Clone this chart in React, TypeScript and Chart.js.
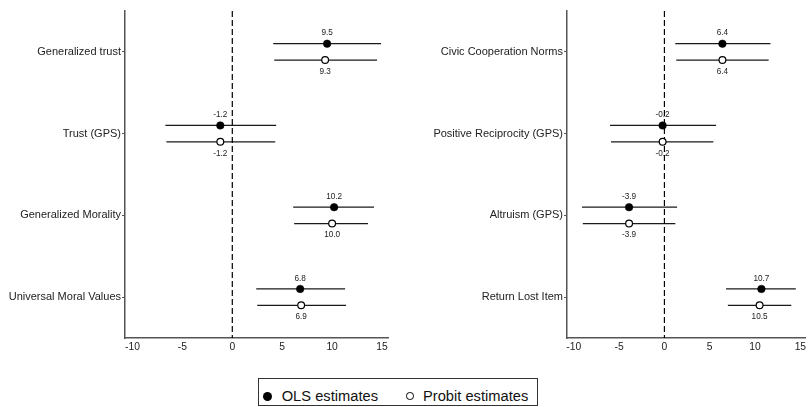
import React, { useEffect, useRef } from "react";
import { Chart, registerables } from "chart.js";

Chart.register(...registerables);

const FONT = "'Liberation Sans', Arial, Helvetica, sans-serif";

// ---- data ----
const xTicks = [-10, -5, 0, 5, 10, 15];
const xMin = -10.75;
const xMax = 15.6;
const catPositions = [1, 2, 3, 4];

const leftCategories = ["Generalized trust", "Trust (GPS)", "Generalized Morality", "Universal Moral Values"];
const leftOls = [9.5, -1.2, 10.2, 6.8];
const leftOlsLo = [4.1, -6.7, 6.1, 2.4];
const leftOlsHi = [14.9, 4.4, 14.2, 11.3];
const leftProbit = [9.3, -1.2, 10.0, 6.9];
const leftProbitLo = [4.2, -6.6, 6.2, 2.5];
const leftProbitHi = [14.5, 4.3, 13.6, 11.4];

const rightCategories = ["Civic Cooperation Norms", "Positive Reciprocity (GPS)", "Altruism (GPS)", "Return Lost Item"];
const rightOls = [6.4, -0.2, -3.9, 10.7];
const rightOlsLo = [1.2, -6.0, -9.1, 6.8];
const rightOlsHi = [11.7, 5.7, 1.4, 14.5];
const rightProbit = [6.4, -0.2, -3.9, 10.5];
const rightProbitLo = [1.3, -5.9, -9.0, 7.0];
const rightProbitHi = [11.5, 5.4, 1.2, 14.0];

const OFF = 0.1;

type PanelProps = {
  categories: string[];
  ols: number[];
  olsLo: number[];
  olsHi: number[];
  probit: number[];
  probitLo: number[];
  probitHi: number[];
  yWidth: number;
  padRight: number;
};

function Panel(p: PanelProps) {
  const ref = useRef<HTMLCanvasElement | null>(null);
  useEffect(() => {
    if (!ref.current) return;
    const ciSets: any[] = [];
    p.categories.forEach((_, i) => {
      const y = catPositions[i];
      ciSets.push({
        data: [{ x: p.olsLo[i], y: y - OFF }, { x: p.olsHi[i], y: y - OFF }],
        borderColor: "#1a1a1a",
        borderWidth: 1.3,
        pointRadius: 0,
        showLine: true,
      });
      ciSets.push({
        data: [{ x: p.probitLo[i], y: y + OFF }, { x: p.probitHi[i], y: y + OFF }],
        borderColor: "#1a1a1a",
        borderWidth: 1.3,
        pointRadius: 0,
        showLine: true,
      });
    });
    const datasets: any[] = [
      {
        data: p.ols.map((v, i) => ({ x: v, y: catPositions[i] - OFF })),
        showLine: false,
        pointRadius: 3.8,
        pointBackgroundColor: "#000",
        pointBorderColor: "#000",
        pointBorderWidth: 0.5,
      },
      {
        data: p.probit.map((v, i) => ({ x: v, y: catPositions[i] + OFF })),
        showLine: false,
        pointRadius: 3.4,
        pointBackgroundColor: "#fff",
        pointBorderColor: "#000",
        pointBorderWidth: 1.2,
      },
      {
        data: [{ x: 0, y: 0.5 }, { x: 0, y: 4.5 }],
        borderColor: "#000",
        borderWidth: 1.2,
        borderDash: [6, 3],
        pointRadius: 0,
        showLine: true,
      },
      ...ciSets,
    ];
    const valuePlugin = {
      id: "vals",
      beforeDatasetsDraw(chart: any) {
        const ctx = chart.ctx;
        const xs = chart.scales.x;
        const ys = chart.scales.y;
        ctx.save();
        ctx.font = `8.2px ${FONT}`;
        ctx.fillStyle = "#222";
        ctx.textAlign = "center";
        ctx.textBaseline = "middle";
        p.ols.forEach((v, i) => {
          ctx.fillText(v.toFixed(1), xs.getPixelForValue(v), ys.getPixelForValue(catPositions[i] - OFF) - 10.5);
        });
        p.probit.forEach((v, i) => {
          ctx.fillText(v.toFixed(1), xs.getPixelForValue(v), ys.getPixelForValue(catPositions[i] + OFF) + 11.5);
        });
        ctx.restore();
      },
    };
    const chart = new Chart(ref.current, {
      type: "line",
      data: { datasets },
      plugins: [valuePlugin],
      options: {
        animation: false,
        responsive: true,
        maintainAspectRatio: false,
        layout: { padding: { top: 11, right: p.padRight, left: 0, bottom: 0 } },
        plugins: { legend: { display: false }, tooltip: { enabled: false } },
        events: [],
        scales: {
          x: {
            type: "linear",
            min: xMin,
            max: xMax,
            afterBuildTicks: (s: any) => {
              s.ticks = xTicks.map((v) => ({ value: v }));
            },
            afterFit: (s: any) => {
              s.height = 22;
              s.paddingLeft = 0;
              s.paddingRight = 0;
            },
            ticks: {
              font: { family: FONT, size: 10.3 },
              color: "#222",
              padding: 3,
              maxRotation: 0,
              autoSkip: false,
            },
            grid: { display: true, drawOnChartArea: false, drawTicks: false },
            border: { display: true, color: "#555", width: 1.5 },
          },
          y: {
            type: "linear",
            reverse: true,
            min: 0.5,
            max: 4.5,
            afterBuildTicks: (s: any) => {
              s.ticks = catPositions.map((v) => ({ value: v }));
            },
            afterFit: (s: any) => {
              s.width = p.yWidth;
              s.paddingTop = 0;
              s.paddingBottom = 0;
            },
            ticks: {
              callback: (_v: any, i: number) => p.categories[i],
              font: { family: FONT, size: 11 },
              color: "#222",
              padding: 1,
              autoSkip: false,
            },
            grid: { display: true, drawOnChartArea: false, drawTicks: true, tickLength: 3, color: "#555" },
            border: { display: true, color: "#555", width: 1.5 },
          },
        },
      } as any,
    });
    return () => chart.destroy();
  }, []);
  return <canvas ref={ref} />;
}

export default function App() {
  return (
    <div
      style={{
        position: "absolute",
        left: 0,
        top: 0,
        width: 809,
        height: 407,
        overflow: "hidden",
        background: "#fff",
        fontFamily: FONT,
      }}
    >
      <div style={{ position: "absolute", left: 0, top: 0, width: 400, height: 360 }}>
        <Panel
          categories={leftCategories}
          ols={leftOls}
          olsLo={leftOlsLo}
          olsHi={leftOlsHi}
          probit={leftProbit}
          probitLo={leftProbitLo}
          probitHi={leftProbitHi}
          yWidth={125}
          padRight={12}
        />
      </div>
      <div style={{ position: "absolute", left: 409, top: 0, width: 402, height: 360 }}>
        <Panel
          categories={rightCategories}
          ols={rightOls}
          olsLo={rightOlsLo}
          olsHi={rightOlsHi}
          probit={rightProbit}
          probitLo={rightProbitLo}
          probitHi={rightProbitHi}
          yWidth={158}
          padRight={0}
        />
      </div>
      <div
        style={{
          position: "absolute",
          left: 258,
          top: 378,
          width: 280,
          height: 28,
          boxSizing: "border-box",
          border: "1px solid #333",
          fontSize: 14.7,
          lineHeight: 1,
          color: "#111",
        }}
      >
        <span
          style={{
            position: "absolute",
            left: 4,
            top: 12.5,
            width: 9,
            height: 9,
            borderRadius: "50%",
            background: "#000",
          }}
        />
        <span style={{ position: "absolute", left: 22.7, top: 9.8, whiteSpace: "nowrap" }}>OLS estimates</span>
        <span
          style={{
            position: "absolute",
            left: 147.3,
            top: 13.3,
            width: 7.5,
            height: 7.5,
            boxSizing: "border-box",
            borderRadius: "50%",
            border: "1.2px solid #000",
            background: "#fff",
          }}
        />
        <span style={{ position: "absolute", left: 164, top: 9.8, whiteSpace: "nowrap" }}>Probit estimates</span>
      </div>
    </div>
  );
}
